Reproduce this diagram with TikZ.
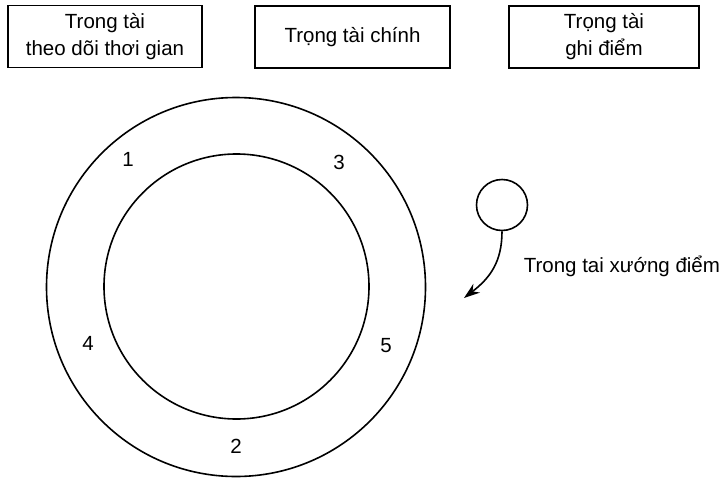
\documentclass[tikz,border=0pt]{standalone}
\usepackage{fontspec}
\setmainfont{Liberation Sans}
\usetikzlibrary{arrows.meta}
\begin{document}
\begin{tikzpicture}[x=1pt,y=-1pt,
  line width=1.6pt,
  txt/.style={font=\fontsize{20.5}{27}\selectfont, inner sep=0pt},
  refbox/.style={draw, line width=1.8pt, minimum width=#1, minimum height=62, align=center, txt},
  ring/.style={draw, circle, inner sep=0pt, minimum size=#1},
  num/.style={txt}]
\useasboundingbox (0,0) rectangle (726,477);

% officials' table along the top
\node[refbox=194] (timer) at (105,36.5) {Trong tài\\theo dõi thơi gian};
\node[refbox=195] (chief) at (352.5,37) {Trọng tài chính};
\node[refbox=190] (score) at (604,37) {Trọng tài\\ghi điểm};

% the mat: outer and inner circles
\node[ring=379] (outer) at (236,287) {};
\node[ring=265] (inner) at (236.5,286.5) {};

% positions around the ring
\node[num] (p1) at (128,159) {1};
\node[num] (p3) at (339,162) {3};
\node[num] (p4) at (88,343) {4};
\node[num] (p5) at (386,346) {5};
\node[num] (p2) at (236,446) {2};

% announcer and his path
\node[ring=51] (ann) at (502,205) {};
\coordinate (tip) at (464,298);
\draw[-{Stealth[length=16pt,width=11pt]}, line width=1.6pt]
  (ann.south) .. controls (502,262) and (490,278) .. (tip);
\node[txt, anchor=west] (annlabel) at (523,266) {Trong tai xướng điểm};
\end{tikzpicture}
\end{document}
